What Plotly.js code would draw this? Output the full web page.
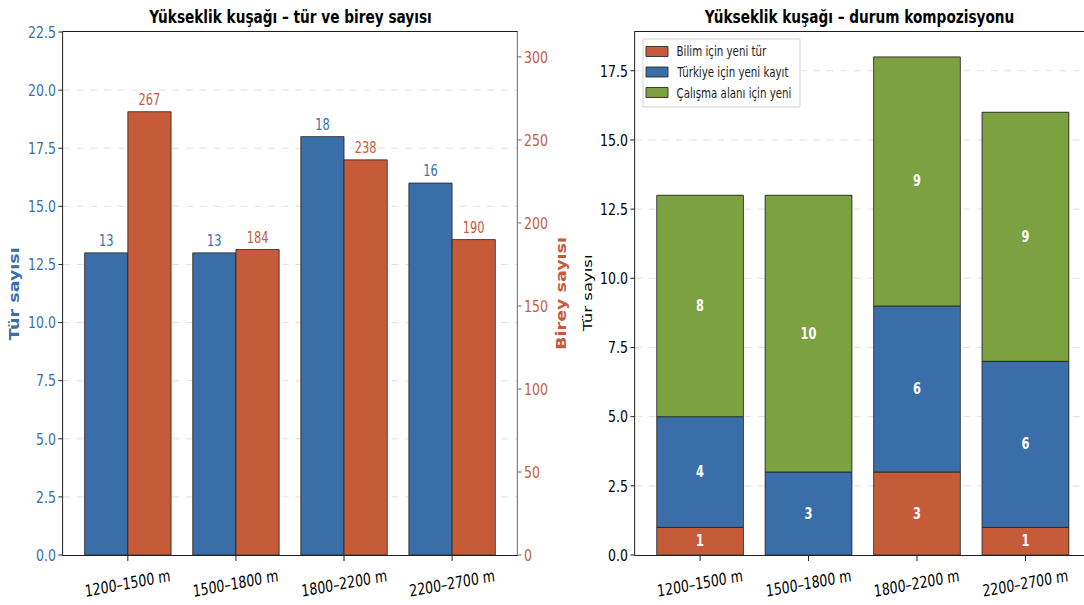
<!DOCTYPE html>
<html><head><meta charset="utf-8">
<script src="https://cdn.plot.ly/plotly-3.0.1.min.js"></script>
<style>
html,body{margin:0;padding:0;background:#fff;width:1084px;height:605px;overflow:hidden}
#chart{width:1426px;height:605px;transform:scaleX(0.76017);transform-origin:0 0}
</style>
</head><body><div id="chart"></div>
<script>
const categories = ['1200–1500 m', '1500–1800 m', '1800–2200 m', '2200–2700 m'];
const speciesCount = [13, 13, 18, 16];
const individualCount = [267, 184, 238, 190];
const newToScience = [1, 0, 3, 1];
const newForTurkey = [4, 3, 6, 6];
const newForStudyArea = [8, 10, 9, 9];
const seriesNames = ['Bilim için yeni tür', 'Türkiye için yeni kayıt', 'Çalışma alanı için yeni'];

const BLUE = '#3a6ea8', ORANGE = '#c65b3a', GREEN = '#7ba140';
const seriesColors = [ORANGE, BLUE, GREEN];
const FONT = '"DejaVu Sans", sans-serif';
const edge = {color: '#2a2a2a', width: 1};
const lbl = a => a.map(v => v > 0 ? String(v) : '');

const stackSeries = [newToScience, newForTurkey, newForStudyArea];

const traces = [
  {type: 'bar', x: categories, y: speciesCount, xaxis: 'x', yaxis: 'y', offset: -0.4, width: 0.4,
   marker: {color: BLUE, line: edge}, text: speciesCount.map(String), textposition: 'outside',
   textfont: {family: FONT, size: 15, color: BLUE}, cliponaxis: false, showlegend: false, hoverinfo: 'skip'},
  {type: 'bar', x: categories, y: individualCount, xaxis: 'x', yaxis: 'y2', offset: 0, width: 0.4,
   marker: {color: ORANGE, line: edge}, text: individualCount.map(String), textposition: 'outside',
   textfont: {family: FONT, size: 15, color: ORANGE}, cliponaxis: false, showlegend: false, hoverinfo: 'skip'}
].concat(stackSeries.map((vals, i) => ({
   type: 'bar', name: seriesNames[i], x: categories, y: vals, xaxis: 'x2', yaxis: 'y3', width: 0.8,
   marker: {color: seriesColors[i], line: edge}, text: lbl(vals), textposition: 'inside', insidetextanchor: 'middle',
   textfont: {family: FONT, size: 15, color: '#ffffff', weight: 'bold'}, showlegend: false, hoverinfo: 'skip'})));

const tickFont = {family: FONT, size: 16.5, color: '#000'};
const grid = {showgrid: true, gridcolor: '#dddddd', griddash: 'dash', gridwidth: 1};

const tickAnns = [];
categories.forEach(c => {
  ['x', 'x2'].forEach(ax => tickAnns.push({text: c, xref: ax, yref: 'paper', x: c, y: 0.036,
    xanchor: 'center', yanchor: 'middle', textangle: -8, showarrow: false,
    font: {family: FONT, size: 16.5, color: '#000'}}));
});

// custom legend (wide patches like the reference)
const px = v => v / 1084, py = v => 1 - v / 605;
const legShapes = [{type: 'rect', xref: 'paper', yref: 'paper', x0: px(643), x1: px(800), y0: py(107), y1: py(39),
  line: {color: '#cccccc', width: 1}, fillcolor: 'rgba(255,255,255,0.85)', layer: 'above'}];
const legAnns = [];
const rowY = [51.5, 72, 92.5];
seriesNames.forEach((n, i) => {
  legShapes.push({type: 'rect', xref: 'paper', yref: 'paper', x0: px(646), x1: px(668),
    y0: py(rowY[i] + 5), y1: py(rowY[i] - 5), line: {color: '#2a2a2a', width: 1},
    fillcolor: seriesColors[i], layer: 'above'});
  legAnns.push({text: n, xref: 'paper', yref: 'paper', x: px(675), y: py(rowY[i]), xanchor: 'left',
    yanchor: 'middle', showarrow: false, font: {family: FONT, size: 13.5, color: '#222'}});
});

const layout = {
  width: 1426, height: 605, margin: {l: 0, r: 0, t: 0, b: 0},
  paper_bgcolor: '#fff', plot_bgcolor: '#fff', barmode: 'stack',
  showlegend: false,
  xaxis: {domain: [0.0581, 0.4769], range: [-0.6, 3.6], type: 'category', showticklabels: false,
    ticks: 'outside', ticklen: 5, tickcolor: '#000', showline: true, linecolor: '#000',
    linewidth: 1, mirror: true, showgrid: false, zeroline: false, anchor: 'y'},
  yaxis: Object.assign({domain: [0.0826, 0.9471], range: [0, 22.5], dtick: 2.5, tickformat: '.1f',
    tickfont: {family: FONT, size: 16.5, color: BLUE}, ticks: 'outside', ticklen: 5, tickcolor: '#000',
    showline: true, linecolor: '#000', linewidth: 1, zeroline: false, anchor: 'x'}, grid),
  yaxis2: {overlaying: 'y', side: 'right', anchor: 'x', range: [0, 315], dtick: 50,
    tickfont: {family: FONT, size: 16.5, color: ORANGE}, ticks: 'outside', ticklen: 5, tickcolor: '#555',
    showline: true, linecolor: '#555', linewidth: 1, showgrid: false, zeroline: false},
  xaxis2: {domain: [0.5858, 1.0], range: [-0.6, 3.54], type: 'category', showticklabels: false, anchor: 'y3',
    ticks: 'outside', ticklen: 5, tickcolor: '#000', showline: true, linecolor: '#000',
    linewidth: 1, mirror: true, showgrid: false, zeroline: false},
  yaxis3: Object.assign({domain: [0.0826, 0.9471], range: [0, 18.9], dtick: 2.5, tickformat: '.1f', anchor: 'x2',
    tickfont: tickFont, ticks: 'outside', ticklen: 5, tickcolor: '#000', showline: true, linecolor: '#000',
    linewidth: 1, zeroline: false}, grid),
  shapes: legShapes,
  annotations: [
    {text: '<b>Yükseklik kuşağı – tür ve birey sayısı</b>', xref: 'paper', yref: 'paper', x: 0.2675, y: 0.972,
     xanchor: 'center', yanchor: 'middle', showarrow: false, font: {family: FONT, size: 18, color: '#000'}},
    {text: '<b>Yükseklik kuşağı – durum kompozisyonu</b>', xref: 'paper', yref: 'paper', x: 0.7929, y: 0.972,
     xanchor: 'center', yanchor: 'middle', showarrow: false, font: {family: FONT, size: 18, color: '#000'}},
    {text: '<b>Tür sayısı</b>', xref: 'paper', yref: 'paper', x: 15 / 1084, y: 0.5149, textangle: -90,
     xanchor: 'center', yanchor: 'middle', showarrow: false, font: {family: FONT, size: 17.5, color: BLUE}},
    {text: '<b>Birey sayısı</b>', xref: 'paper', yref: 'paper', x: 562 / 1084, y: 0.5149, textangle: -90,
     xanchor: 'center', yanchor: 'middle', showarrow: false, font: {family: FONT, size: 17.5, color: ORANGE}},
    {text: 'Tür sayısı', xref: 'paper', yref: 'paper', x: 588 / 1084, y: 0.5149, textangle: -90,
     xanchor: 'center', yanchor: 'middle', showarrow: false, font: {family: FONT, size: 16.5, color: '#000'}}
  ].concat(tickAnns, legAnns)
};
Plotly.newPlot('chart', traces, layout, {staticPlot: true, displayModeBar: false});
</script></body></html>
